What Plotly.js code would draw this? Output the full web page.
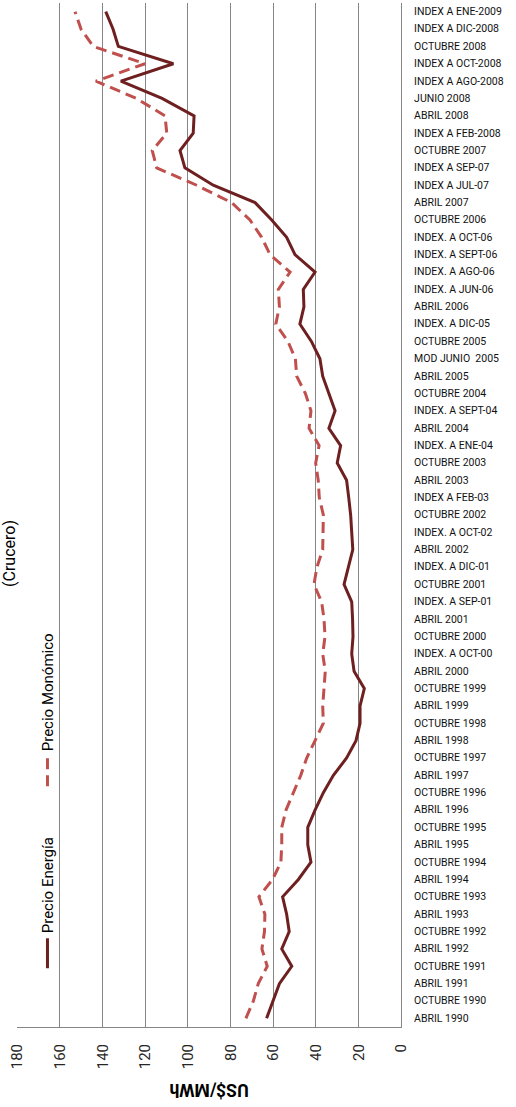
<!DOCTYPE html>
<html>
<head>
<meta charset="utf-8">
<script src="https://cdn.plot.ly/plotly-3.0.1.min.js"></script>
<style>
html,body{margin:0;padding:0;overflow:hidden;background:#fff;width:516px;height:1107px;}
#chart{position:absolute;left:0;top:0;width:1107px;height:516px;transform-origin:0 0;transform:translate(0px,1107px) rotate(-90deg);}
</style>
</head>
<body>
<div id="chart"></div>
<script>
// Categories in chronological order (drawn bottom to top in the rotated chart)
const categories = [
  "ABRIL 1990","OCTUBRE 1990","ABRIL 1991","OCTUBRE 1991","ABRIL 1992","OCTUBRE 1992",
  "ABRIL 1993","OCTUBRE 1993","ABRIL 1994","OCTUBRE 1994","ABRIL 1995","OCTUBRE 1995",
  "ABRIL 1996","OCTUBRE 1996","ABRIL 1997","OCTUBRE 1997","ABRIL 1998","OCTUBRE 1998",
  "ABRIL 1999","OCTUBRE 1999","ABRIL 2000","INDEX. A OCT-00","OCTUBRE 2000","ABRIL 2001",
  "INDEX. A SEP-01","OCTUBRE 2001","INDEX. A DIC-01","ABRIL 2002","INDEX. A OCT-02","OCTUBRE 2002",
  "INDEX A FEB-03","ABRIL 2003","OCTUBRE 2003","INDEX. A ENE-04","ABRIL 2004","INDEX. A SEPT-04",
  "OCTUBRE 2004","ABRIL 2005","MOD JUNIO  2005","OCTUBRE 2005","INDEX. A DIC-05","ABRIL 2006",
  "INDEX. A JUN-06","INDEX. A AGO-06","INDEX. A SEPT-06","INDEX. A OCT-06","OCTUBRE 2006","ABRIL 2007",
  "INDEX A JUL-07","INDEX A SEP-07","OCTUBRE 2007","INDEX A FEB-2008","ABRIL 2008","JUNIO 2008",
  "INDEX A AGO-2008","INDEX A OCT-2008","OCTUBRE 2008","INDEX A DIC-2008","INDEX A ENE-2009"
];

const precioEnergia = [
  63, 60, 57, 51.2, 55.9, 52.4, 53.6, 55.5, 48.1, 42.2, 43.7, 43.7,
  40.3, 36.4, 31.7, 25.5, 21.1, 19.2, 19.2, 17.2, 22.0, 23.1, 22.5, 22.7,
  23.1, 26.7, 24.7, 22.6, 23.1, 23.6, 24.5, 25.5, 29.9, 28.3, 33.8, 30.9,
  33.8, 36.7, 38.0, 42.0, 47.4, 45.5, 45.8, 40.3, 49.7, 53.6, 60.6, 68.4,
  88.0, 101.3, 103.6, 97.4, 97.0, 112.0, 131.3, 106.7, 132.5, 135.0, 138.4
];

const precioMonomico = [
  72.7, 69.2, 66.9, 62.7, 65.2, 64.0, 63.8, 66.6, 60.2, 56.3, 55.9, 55.9,
  53.9, 50.5, 47.0, 44.2, 40.3, 36.4, 36.7, 36.1, 35.5, 36.7, 35.6, 36.1,
  37.2, 40.8, 39.4, 36.7, 36.7, 36.4, 38.3, 38.8, 40.0, 38.4, 43.1, 42.2,
  44.8, 48.9, 49.5, 53.0, 58.7, 57.0, 57.5, 52.0, 61.4, 65.3, 70.8, 79.4,
  95.8, 114.5, 116.6, 109.8, 110.6, 124.0, 143.0, 120.0, 144.3, 150.0, 152.8
];

const seriesNames = ["Precio Energía", "Precio Monómico"];
const valueTicks = [0, 20, 40, 60, 80, 100, 120, 140, 160, 180];
const chartTitle = "(Crucero)";
const valueAxisTitle = "US$/MWh";

const FONT = "Roboto, 'Liberation Sans', Arial, sans-serif";

const traces = [
  {
    type: "scatter", mode: "lines", name: seriesNames[0],
    x: categories, y: precioEnergia,
    line: {color: "#6E2020", width: 3}
  },
  {
    type: "scatter", mode: "lines", name: seriesNames[1],
    x: categories, y: precioMonomico,
    line: {color: "#C0504D", width: 3, dash: "11px,6px"}
  }
];

const layout = {
  width: 1107, height: 516, autosize: false,
  margin: {l: 80, r: 3, t: 17, b: 115, pad: 0},
  paper_bgcolor: "#ffffff", plot_bgcolor: "#ffffff",
  font: {family: FONT, color: "#262626"},
  showlegend: true,
  title: {
    text: chartTitle,
    font: {family: FONT, size: 16, color: "#000000"},
    x: 0.5, xref: "container", xanchor: "center",
    y: 0.993, yref: "container", yanchor: "top"
  },
  legend: {
    orientation: "h",
    x: 0.0525, xanchor: "left", y: 0.92, yanchor: "middle",
    font: {family: FONT, size: 15, color: "#000000"},
    bgcolor: "rgba(0,0,0,0)", itemwidth: 30, tracegroupgap: 0,
    entrywidth: 137
  },
  xaxis: {
    type: "category",
    categoryorder: "array", categoryarray: categories,
    range: [-0.5, categories.length - 0.5],
    tickangle: 90,
    tickfont: {family: FONT, size: 10.5, color: "#111111"},
    ticks: "", ticklabelstandoff: 10,
    showgrid: false, zeroline: false,
    showline: true, linecolor: "#868686", linewidth: 1,
    fixedrange: true
  },
  yaxis: {
    range: [0, 180],
    tickmode: "array", tickvals: valueTicks, ticktext: valueTicks.map(String),
    tickfont: {family: FONT, size: 15, color: "#262626"},
    ticks: "", ticklabelstandoff: 13,
    showgrid: true, gridcolor: "#868686", gridwidth: 1,
    zeroline: false,
    showline: true, linecolor: "#868686", linewidth: 1,
    title: {text: valueAxisTitle, font: {family: FONT, size: 17.5, color: "#000000", weight: "bold"}, standoff: 9},
    fixedrange: true
  }
};

Plotly.newPlot("chart", traces, layout, {displayModeBar: false, staticPlot: true});
</script>
</body>
</html>
